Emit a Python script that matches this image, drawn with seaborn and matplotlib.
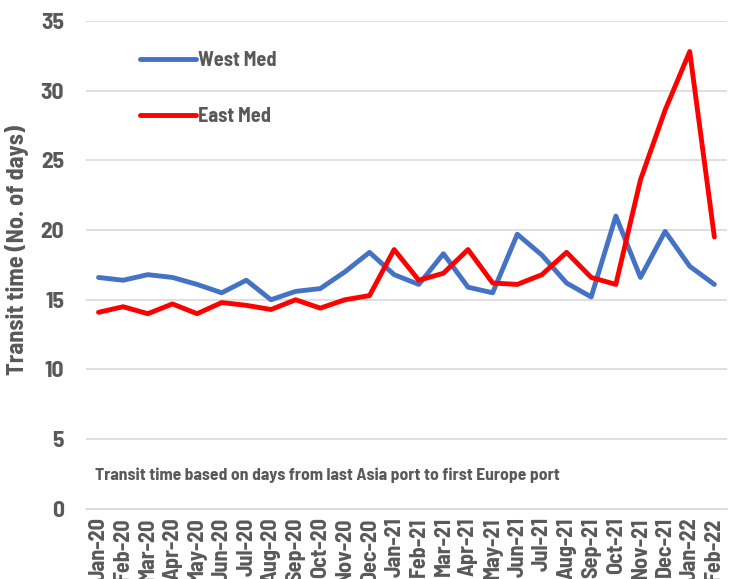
import numpy as np
import pandas as pd
import seaborn as sns
import matplotlib.pyplot as plt

months = ['Jan-20', 'Feb-20', 'Mar-20', 'Apr-20', 'May-20', 'Jun-20', 'Jul-20', 'Aug-20',
          'Sep-20', 'Oct-20', 'Nov-20', 'Dec-20', 'Jan-21', 'Feb-21', 'Mar-21', 'Apr-21',
          'May-21', 'Jun-21', 'Jul-21', 'Aug-21', 'Sep-21', 'Oct-21', 'Nov-21', 'Dec-21',
          'Jan-22', 'Feb-22']
west_med = [16.6, 16.4, 16.8, 16.6, 16.1, 15.5, 16.4, 15.0, 15.6, 15.8, 17.0, 18.4, 16.8,
            16.1, 18.3, 15.9, 15.5, 19.7, 18.2, 16.2, 15.2, 21.0, 16.6, 19.9, 17.4, 16.1]
east_med = [14.1, 14.5, 14.0, 14.7, 14.0, 14.8, 14.6, 14.3, 15.0, 14.4, 15.0, 15.3, 18.6,
            16.4, 16.9, 18.6, 16.2, 16.1, 16.8, 18.4, 16.6, 16.1, 23.6, 28.6, 32.8, 19.5]

sns.set_style('white')
plt.rcParams['font.family'] = ['Barlow Semi Condensed', 'DejaVu Sans']
plt.rcParams['font.weight'] = 'bold'

df = pd.DataFrame({
    'month': months * 2,
    'days': west_med + east_med,
    'route': ['West Med'] * len(months) + ['East Med'] * len(months),
})

fig = plt.figure(figsize=(7.37, 5.79), dpi=100)
ax = fig.add_axes([0.117, 0.121, 0.869, 0.843])
sns.lineplot(data=df, x='month', y='days', hue='route', sort=False,
             palette={'West Med': '#4472C4', 'East Med': '#FF0000'},
             linewidth=3.5, ax=ax)

grey = '#595959'
ax.set_ylim(0, 35)
ax.set_yticks(np.arange(0, 36, 5))
ax.set_xlim(-0.5, len(months) - 0.5)
ax.yaxis.grid(True, color='#D9D9D9', linewidth=1.2)
for s in ['top', 'right', 'left']:
    ax.spines[s].set_visible(False)
ax.spines['bottom'].set_color('#D9D9D9')
ax.spines['bottom'].set_linewidth(1.2)

ax.set_xticks(range(len(months)))
ax.set_xticklabels(months, rotation=90, fontsize=16, fontweight='bold', color=grey)
ax.tick_params(axis='x', which='major', length=0, pad=6)
ax.set_xticks(np.arange(-0.5, len(months), 1), minor=True)
ax.tick_params(axis='x', which='minor', length=5, color='#D9D9D9', width=1.2, direction='out')
ax.tick_params(axis='y', length=0, labelsize=17, labelcolor=grey, pad=16)
for t in ax.get_yticklabels():
    t.set_fontweight('bold')

ax.set_xlabel('')
ax.set_ylabel('Transit time (No. of days)', fontsize=17.5, fontweight='bold', color=grey)
ax.yaxis.set_label_coords(-0.09, 0.53)

# note inside the plot, just above the baseline
ax.text(-0.15, 2.1, 'Transit time based on days from last Asia port to first Europe port',
        fontsize=12.6, fontweight='bold', color=grey)

leg = ax.legend(loc='upper left', bbox_to_anchor=(0.055, 0.975), frameon=False,
                fontsize=14.5, handlelength=2.8, labelspacing=1.85, handletextpad=0.12)
for t in leg.get_texts():
    t.set_fontweight('bold')
    t.set_color(grey)
for h in leg.get_lines():
    h.set_linewidth(3.5)

fig.savefig('out.png', dpi=100)
